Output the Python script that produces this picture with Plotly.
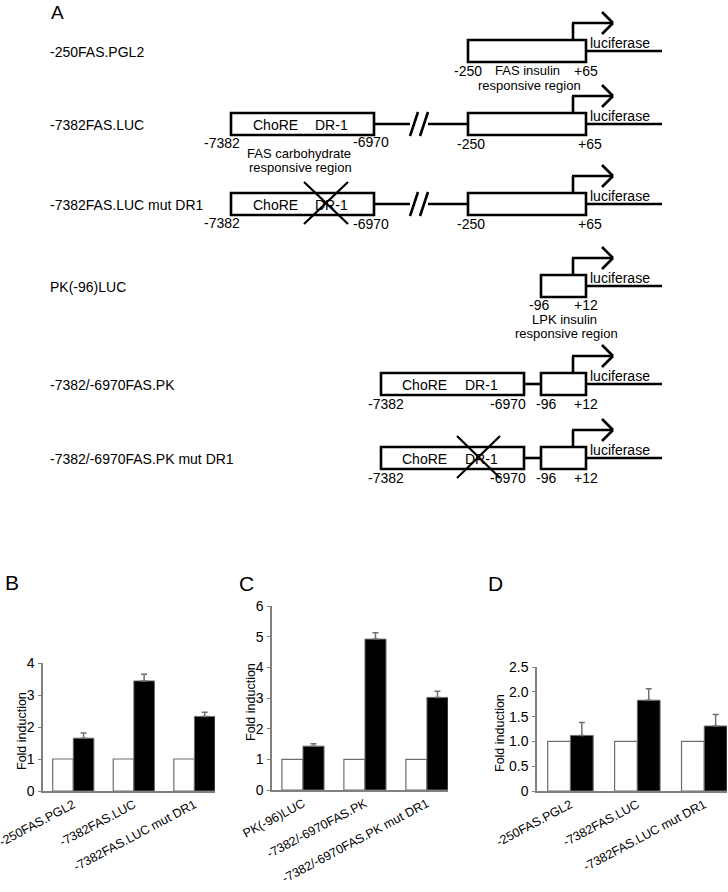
import plotly.graph_objects as go

W, H = 728, 892

# panel B / D constructs (FAS promoter)
fas_labels = ["-250FAS.PGL2", "-7382FAS.LUC", "-7382FAS.LUC mut DR1"]
# panel C constructs (PK promoter)
pk_labels = ["PK(-96)LUC", "-7382/-6970FAS.PK", "-7382/-6970FAS.PK mut DR1"]

b_ctrl = [1.0, 1.0, 1.0]
b_ins = [1.65, 3.44, 2.33]
b_err = [0.16, 0.21, 0.13]

c_ctrl = [1.0, 1.0, 1.0]
c_ins = [1.43, 4.92, 3.02]
c_err = [0.08, 0.21, 0.2]

d_ctrl = [1.0, 1.0, 1.0]
d_ins = [1.12, 1.83, 1.31]
d_err = [0.26, 0.23, 0.23]

b_ticks = [0, 1, 2, 3, 4]
c_ticks = [0, 1, 2, 3, 4, 5, 6]
d_ticks = [0, 0.5, 1.0, 1.5, 2.0, 2.5]
d_ticktext = ["0", "0.5", "1.0", "1.5", "2.0", "2.5"]

# schematic rows (panel A)
row_names = ["-250FAS.PGL2", "-7382FAS.LUC", "-7382FAS.LUC mut DR1",
             "PK(-96)LUC", "-7382/-6970FAS.PK", "-7382/-6970FAS.PK mut DR1"]

DIAG_FONT = "Liberation Sans, Arial, sans-serif"
AX_FONT = "Liberation Sans, Arial, sans-serif"
GRAY = "#808080"
FS = 14


def px(x):
    return x / W


def py(y):
    return 1 - y / H


shapes = []
annots = []


def line(x0, y0, x1, y1, w=2.6):
    shapes.append(dict(type="line", xref="paper", yref="paper",
                       x0=px(x0), y0=py(y0), x1=px(x1), y1=py(y1),
                       line=dict(color="black", width=w)))


def box(x0, x1, c):
    shapes.append(dict(type="rect", xref="paper", yref="paper",
                       x0=px(x0), y0=py(c - 11), x1=px(x1), y1=py(c + 11),
                       line=dict(color="black", width=2.6), fillcolor="white"))


def txt(s, x, y, anchor="center", size=FS, font=DIAG_FONT, angle=0):
    annots.append(dict(text=s, x=px(x), y=py(y), xref="paper", yref="paper",
                       xanchor=anchor, yanchor="middle", showarrow=False,
                       textangle=angle, borderpad=0,
                       font=dict(family=font, size=size, color="black")))


def reporter(x_arrow, c, x_start):
    # transcription start arrow + luciferase line
    top = c - 11
    line(x_arrow, top, x_arrow, top - 17)
    line(x_arrow - 1, top - 17, 613, top - 17)
    line(602, top - 28, 613, top - 17)
    line(602, top - 6, 613, top - 17)
    line(x_start, c, 662, c)
    txt("luciferase", 589, c - 8, anchor="left")


def cross(x0, x1, c):
    line(x0, c - 22, x1, c + 20, w=2.2)
    line(x1, c - 22, x0, c + 20, w=2.2)


def brk(c):
    line(374, c, 410, c)
    line(428, c, 468, c)
    line(410, c + 12, 418, c - 12)
    line(420, c + 12, 428, c - 12)


row_y = [51, 124, 204, 286, 384, 458]

txt("A", 57, 12, size=19)
for name, c in zip(row_names, row_y):
    txt(name, 49, c + 1, anchor="left")

# row 1
c = row_y[0]
reporter(573, c, 586)
box(468, 586, c)
txt("-250", 468, c + 20)
txt("FAS insulin", 527, c + 20, size=13)
txt("+65", 586, c + 20)
txt("responsive region", 529, c + 34, size=13)

# rows 2 and 3
for i in (1, 2):
    c = row_y[i]
    brk(c)
    reporter(573, c, 586)
    box(231, 374, c)
    box(468, 586, c)
    txt("ChoRE", 275, c + 1)
    txt("DR-1", 331, c + 1)
    txt("-7382", 222, c + 19)
    txt("-6970", 371, c + 20 if i == 2 else c + 18)
    txt("-250", 471, c + 20)
    txt("+65", 590, c + 20)
    if i == 1:
        txt("FAS carbohydrate", 299, c + 29, size=13)
        txt("responsive region", 300, c + 43, size=13)
    else:
        cross(304, 348, c)

# row 4
c = row_y[3]
reporter(573, c, 586)
box(541, 586, c)
txt("-96", 539, c + 19)
txt("+12", 586, c + 19)
txt("LPK insulin", 564, c + 33, size=13)
txt("responsive region", 566, c + 47, size=13)

# rows 5 and 6
for i in (4, 5):
    c = row_y[i]
    reporter(573, c, 586)
    line(524, c, 541, c)
    box(381, 524, c)
    box(541, 586, c)
    txt("ChoRE", 424, c + 1)
    txt("DR-1", 481, c + 1)
    txt("-7382", 386, c + 20)
    txt("-6970", 508, c + 20)
    txt("-96", 546, c + 20)
    txt("+12", 586, c + 20)
    if i == 5:
        cross(457, 500, c)

# bar panels: (letter, labels, ctrl, ins, err, ticks, ticktext, yrange, box px)
panels = [
    ("B", fas_labels, b_ctrl, b_ins, b_err, b_ticks, [str(t) for t in b_ticks],
     [0, 4], (43, 215, 663, 791), (12, 582), 22),
    ("C", pk_labels, c_ctrl, c_ins, c_err, c_ticks, [str(t) for t in c_ticks],
     [0, 6], (272, 448, 606, 790), (246, 583), 251),
    ("D", fas_labels, d_ctrl, d_ins, d_err, d_ticks, d_ticktext,
     [0, 2.5], (537, 727, 667, 791), (495, 583), 500),
]

fig = go.Figure()
BW = 0.34
for k, (letter, labels, ctrl, ins, err, tv, tt, yr, bx, lp, tx) in enumerate(panels):
    n = "" if k == 0 else str(k + 1)
    xs = list(range(len(labels)))
    fig.add_trace(go.Bar(
        x=xs, y=ctrl, width=BW, offset=-BW,
        marker=dict(color="white", line=dict(color="#6e6e6e", width=1.2)),
        xaxis="x" + n, yaxis="y" + n, showlegend=False))
    fig.add_trace(go.Bar(
        x=xs, y=ins, width=BW, offset=0,
        marker=dict(color="black", line=dict(color="#6e6e6e", width=1)),
        error_y=dict(type="data", symmetric=False, array=err,
                     arrayminus=[0] * len(err), color="#707070",
                     thickness=1.5, width=3),
        xaxis="x" + n, yaxis="y" + n, showlegend=False))
    x0, x1, y0, y1 = bx
    fig.update_layout(**{
        "xaxis" + n: dict(domain=[px(x0), px(x1)], range=[-0.5, 2.34],
                          anchor="y" + n, tickvals=xs, ticktext=labels,
                          tickangle=-28, showline=True, linecolor=GRAY,
                          linewidth=1.5, ticks="", showgrid=False,
                          zeroline=False, fixedrange=True, automargin=False,
                          ticklabeloverflow="allow",
                          tickfont=dict(family=AX_FONT, size=12.5, color="black")),
        "yaxis" + n: dict(domain=[py(y1), py(y0)], range=yr, anchor="x" + n,
                          tickvals=tv, ticktext=tt, showline=True,
                          linecolor=GRAY, linewidth=1.5, ticks="outside",
                          ticklen=3, tickcolor=GRAY, showgrid=False,
                          zeroline=False, ticklabelstandoff=1, automargin=False,
                          ticklabeloverflow="allow",
                          tickfont=dict(family=AX_FONT, size=14, color="black")),
    })
    txt(letter, lp[0], lp[1], size=21, font=AX_FONT)
    txt("Fold induction", tx, (y0 + y1) / 2 + 4, size=12.5, font=AX_FONT, angle=-90)

fig.update_layout(
    width=W, height=H,
    margin=dict(l=0, r=0, t=0, b=0, autoexpand=False),
    paper_bgcolor="white",
    plot_bgcolor="white",
    barmode="overlay",
    shapes=shapes,
    annotations=annots,
)

# page body margin would push the fixed-size figure past the window
fig.write_html("out.html", config={"displayModeBar": False},
               post_script="document.body.style.margin='0';"
                           "document.body.style.overflow='hidden';")
